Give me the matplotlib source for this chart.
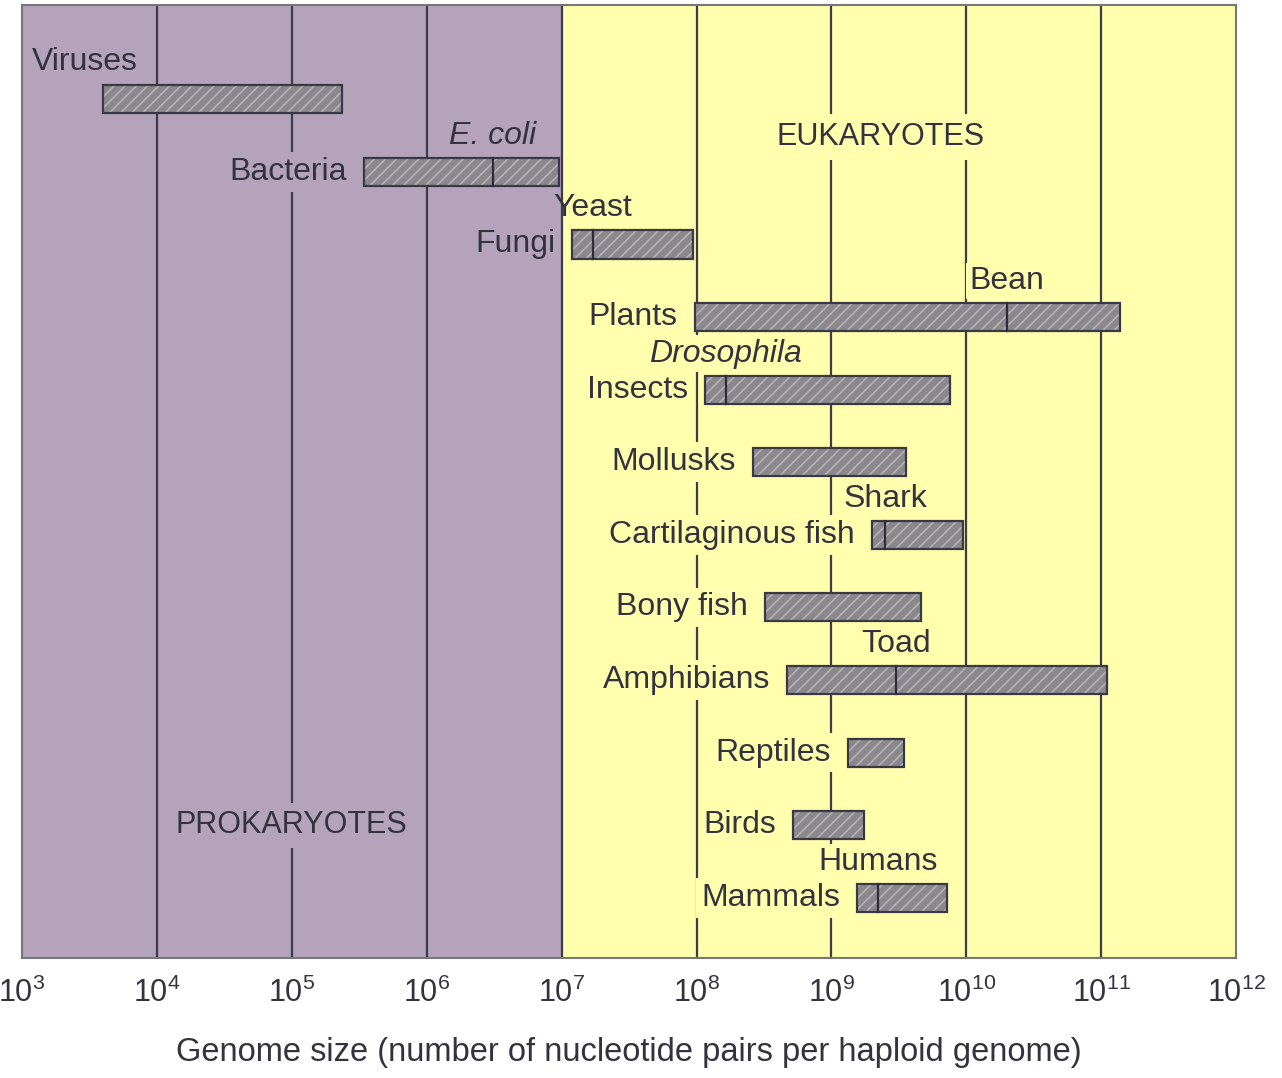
import numpy as np
import matplotlib as mpl
mpl.use('Agg')
import matplotlib.pyplot as plt

plt.rcParams['font.family'] = ['Liberation Sans', 'DejaVu Sans']

### DATA ###
groups = ['Viruses', 'Bacteria', 'Fungi', 'Plants', 'Insects', 'Mollusks',
          'Cartilaginous fish', 'Bony fish', 'Amphibians', 'Reptiles',
          'Birds', 'Mammals']
low = [4.0e3, 3.4e5, 1.2e7, 9.7e7, 1.15e8, 2.6e8,
       2.0e9, 3.2e8, 4.7e8, 1.33e9, 5.2e8, 1.55e9]
high = [2.35e5, 9.6e6, 9.4e7, 1.38e11, 7.6e9, 3.6e9,
        9.5e9, 4.6e9, 1.1e11, 3.45e9, 1.75e9, 7.2e9]

# reference organisms marked inside a bar
ref_names = ['E. coli', 'Yeast', 'Bean', 'Drosophila', 'Shark', 'Toad', 'Humans']
ref_group = ['Bacteria', 'Fungi', 'Plants', 'Insects', 'Cartilaginous fish',
             'Amphibians', 'Mammals']
ref_size = [3.1e6, 1.7e7, 2.0e10, 1.65e8, 2.5e9, 3.0e9, 2.2e9]
ref_italic = [True, False, False, True, False, False, False]

tick_exp = list(range(3, 13))

### STYLE ###
purple = '#b4a3bb'
yellow = '#ffffae'
ink = '#34323f'
line_col = '#3e3c4a'
fs = 23

fig = plt.figure(figsize=(12.82, 10.78), dpi=100)
ax = fig.add_axes([0.0172, 0.1113, 0.9470, 0.8841])
ax.set_xscale('log')
ax.set_xlim(1e3, 1e12)
ax.set_ylim(11.83, -1.30)

# two domains
ax.axvspan(1e3, 1e7, color=purple, zorder=0, lw=0)
ax.axvspan(1e7, 1e12, color=yellow, zorder=0, lw=0)

for e in range(4, 12):
    ax.axvline(10.0 ** e, color=line_col, lw=1.6, zorder=1)

rows = np.arange(len(groups))
widths = np.array(high) - np.array(low)
h = 0.386
plt.rcParams['hatch.linewidth'] = 1.2
ax.barh(rows, widths, left=low, height=h, color='#8a888c',
        edgecolor='#b4b2b6', hatch='///', lw=0, zorder=2)
ax.barh(rows, widths, left=low, height=h, fill=False,
        edgecolor='#3a3844', lw=1.6, zorder=3)

def bg(x):
    return purple if x < 1e7 else yellow

# group labels
for i, name in enumerate(groups):
    if name == 'Viruses':
        ax.annotate(name, (low[i], i), xytext=(-71, 37), textcoords='offset pixels',
                    ha='left', va='center', fontsize=fs, color=ink, zorder=4,
                    bbox=dict(boxstyle='square,pad=0.15', fc=bg(low[i]), ec='none'))
    else:
        ax.annotate(name, (low[i], i), xytext=(-17, 0), textcoords='offset pixels',
                    ha='right', va='center', fontsize=fs, color=ink, zorder=4,
                    bbox=dict(boxstyle='square,pad=0.15', fc=bg(low[i] / 3), ec='none'))

# reference organisms
for name, grp, size, it in zip(ref_names, ref_group, ref_size, ref_italic):
    r = groups.index(grp)
    ax.plot([size, size], [r - h / 2, r + h / 2], color='#2e2c3a', lw=1.6, zorder=4)
    box = None
    if name != 'Yeast':
        box = dict(boxstyle='square,pad=0.1', fc=bg(size), ec='none')
    ax.annotate(name, (size, r), xytext=(0, 36), textcoords='offset pixels',
                ha='center', va='center', fontsize=fs, color=ink, zorder=4,
                style='italic' if it else 'normal', bbox=box)

# domain labels
ax.text(1.0e5, 10.0, 'PROKARYOTES', ha='center', va='center', fontsize=fs - 1,
        color=ink, zorder=4,
        bbox=dict(boxstyle='square,pad=0.25', fc=purple, ec='none'))
ax.text(2.3e9, 0.52, 'EUKARYOTES', ha='center', va='center', fontsize=fs - 1,
        color=ink, zorder=4,
        bbox=dict(boxstyle='square,pad=0.25', fc=yellow, ec='none'))

ax.set_xticks([10.0 ** e for e in tick_exp])
ax.set_xticklabels([r'$\mathregular{10^{%d}}$' % e for e in tick_exp],
                   fontsize=22, color=ink)
ax.xaxis.set_minor_locator(mpl.ticker.NullLocator())
ax.tick_params(axis='x', length=0, pad=14)
ax.set_yticks([])
for s in ax.spines.values():
    s.set_color('#777777')
    s.set_linewidth(1.5)

ax.set_xlabel('Genome size (number of nucleotide pairs per haploid genome)',
              fontsize=23.5, color=ink, labelpad=20)

fig.savefig('out.png', dpi=100, facecolor='white')
